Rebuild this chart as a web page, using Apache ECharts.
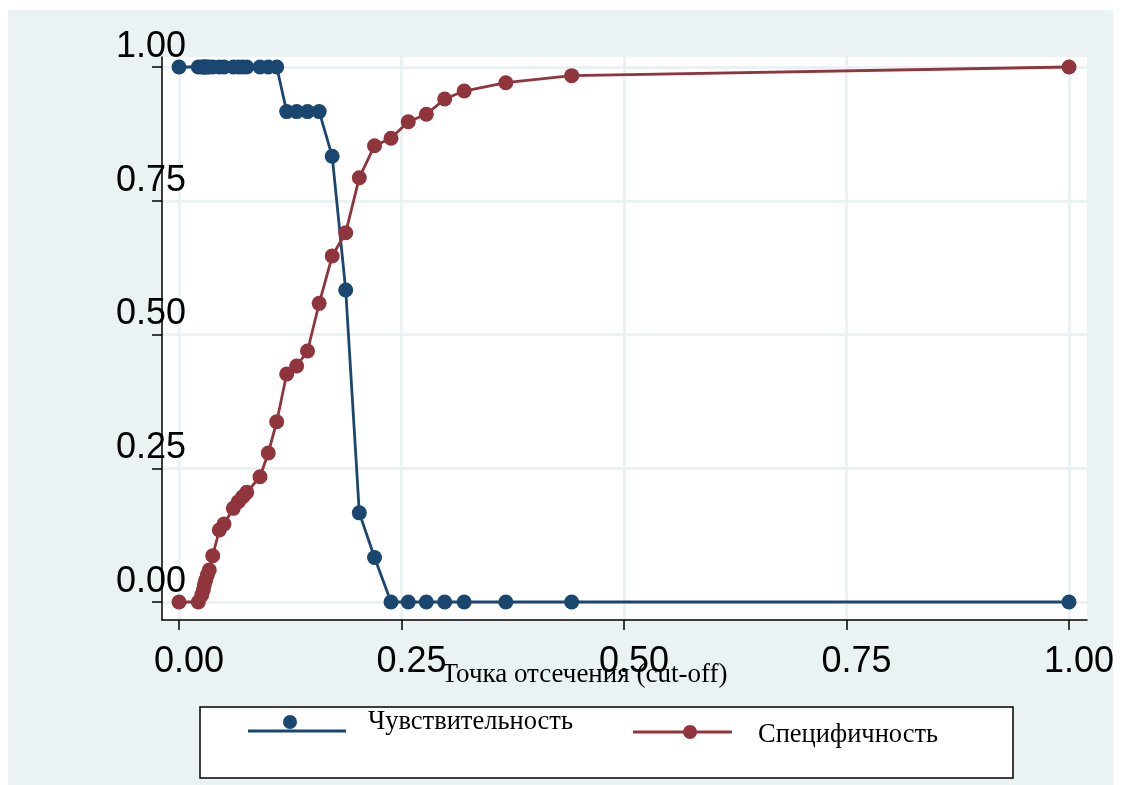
<!DOCTYPE html>
<html>
<head>
<meta charset="utf-8">
<script src="https://cdn.jsdelivr.net/npm/echarts@6/dist/echarts.min.js"></script>
<style>
  html, body { margin: 0; padding: 0; background: #ffffff; }
  #chart { width: 1128px; height: 785px; }
</style>
</head>
<body>
<div id="chart"></div>
<script>
// Cut-off points and the two classification curves evaluated at each of them
const cutoffs = [
  0, 0.0217, 0.0255, 0.0273, 0.0284, 0.0300, 0.0318, 0.0340, 0.0379, 0.0453,
  0.0506, 0.0610, 0.0666, 0.0716, 0.0761, 0.0910, 0.1003, 0.1098, 0.1210, 0.1322,
  0.1444, 0.1575, 0.1721, 0.1873, 0.2026, 0.2197, 0.2382, 0.2576, 0.2779, 0.2985,
  0.3204, 0.3672, 0.4412, 1.0
];
const sensitivity = [
  1, 1, 1, 1, 1, 1, 1, 1, 1, 1,
  1, 1, 1, 1, 1, 1, 1, 1, 0.9167, 0.9167,
  0.9167, 0.9167, 0.8333, 0.5833, 0.1667, 0.0833, 0, 0, 0, 0,
  0, 0, 0, 0
];
const specificity = [
  0, 0, 0.0131, 0.0224, 0.0318, 0.0411, 0.0505, 0.0598, 0.0865, 0.1346,
  0.1458, 0.1751, 0.1875, 0.1968, 0.2050, 0.2342, 0.2785, 0.3370, 0.4262, 0.4411,
  0.4692, 0.5583, 0.6467, 0.6903, 0.7931, 0.8529, 0.8669, 0.8978, 0.9116, 0.9402,
  0.9551, 0.9707, 0.9838, 1.0
];
const xTicks = [0, 0.25, 0.5, 0.75, 1];
const yTicks = [0, 0.25, 0.5, 0.75, 1];
const xTitle = 'Точка отсечения (cut-off)';
const seriesNames = ['Чувствительность', 'Специфичность'];

const NAVY = '#1a476f';
const MAROON = '#90353b';
const BG = '#eaf2f3';
const SANS = '"Liberation Sans", Arial, Helvetica, sans-serif';
const SERIF = '"Liberation Serif", "Times New Roman", serif';

const pairs = (ys) => cutoffs.map((x, i) => [x, ys[i]]);
const fmt = (v) => v.toFixed(2);

const chart = echarts.init(document.getElementById('chart'), null, { renderer: 'canvas' });

chart.setOption({
  animation: false,
  backgroundColor: 'transparent',
  grid: {
    left: 162, right: 41, top: 57, bottom: 165,
    show: true, backgroundColor: '#ffffff', borderWidth: 0,
    containLabel: false
  },
  xAxis: {
    type: 'value',
    min: -0.0191, max: 1.0202,
    name: xTitle,
    nameLocation: 'middle',
    nameGap: 41,
    nameMoveOverlap: false,
    nameTextStyle: { fontFamily: SERIF, fontSize: 27, color: '#000', padding: [0, 80, 0, 0] },
    axisLine: { show: true, onZero: false, lineStyle: { color: '#000', width: 1.5 } },
    axisTick: { show: true, length: 10, customValues: xTicks, lineStyle: { color: '#000', width: 1.5 } },
    axisLabel: {
      customValues: xTicks, formatter: fmt, margin: 24,
      fontFamily: SANS, fontSize: 36, color: '#000',
      align: 'center', padding: [0, 0, 0, 20]
    },
    splitLine: { show: true, lineStyle: { color: BG, width: 3 } }
  },
  yAxis: {
    type: 'value',
    min: -0.0336, max: 1.0187,
    axisLine: { show: true, onZero: false, lineStyle: { color: '#000', width: 1.5 } },
    axisTick: { show: true, length: 10, customValues: yTicks, lineStyle: { color: '#000', width: 1.5 } },
    axisLabel: {
      customValues: yTicks, formatter: fmt, margin: 11,
      fontFamily: SANS, fontSize: 36, color: '#000',
      align: 'center', verticalAlign: 'bottom', lineHeight: 40
    },
    splitLine: { show: true, lineStyle: { color: BG, width: 3 } }
  },
  series: [
    {
      name: seriesNames[0], type: 'line', data: pairs(sensitivity),
      symbol: 'circle', symbolSize: 15, showSymbol: true, showAllSymbol: true,
      itemStyle: { color: NAVY }, lineStyle: { color: NAVY, width: 2.8 },
      z: 3
    },
    {
      name: seriesNames[1], type: 'line', data: pairs(specificity),
      symbol: 'circle', symbolSize: 15, showSymbol: true, showAllSymbol: true,
      itemStyle: { color: MAROON }, lineStyle: { color: MAROON, width: 2.8 },
      z: 4
    }
  ],
  graphic: [
    // figure backdrop
    { type: 'rect', z: -10, silent: true,
      shape: { x: 8, y: 10, width: 1105, height: 780 },
      style: { fill: BG } },
    // legend box
    { type: 'rect', z: 50, silent: true,
      shape: { x: 200, y: 707, width: 813, height: 71 },
      style: { fill: '#ffffff', stroke: '#000', lineWidth: 1.5 } },
    { type: 'line', z: 51, silent: true,
      shape: { x1: 248, y1: 731, x2: 346, y2: 731 },
      style: { stroke: NAVY, lineWidth: 2.8 } },
    { type: 'circle', z: 52, silent: true,
      shape: { cx: 290, cy: 722, r: 7 }, style: { fill: NAVY } },
    { type: 'text', z: 52, silent: true, x: 368, y: 722,
      style: { text: seriesNames[0], font: '26.5px ' + SERIF, fill: '#000', verticalAlign: 'middle' } },
    { type: 'line', z: 51, silent: true,
      shape: { x1: 633, y1: 732, x2: 732, y2: 732 },
      style: { stroke: MAROON, lineWidth: 2.8 } },
    { type: 'circle', z: 52, silent: true,
      shape: { cx: 690, cy: 732, r: 7 }, style: { fill: MAROON } },
    { type: 'text', z: 52, silent: true, x: 758, y: 735,
      style: { text: seriesNames[1], font: '26.5px ' + SERIF, fill: '#000', verticalAlign: 'middle' } }
  ]
});
</script>
</body>
</html>
